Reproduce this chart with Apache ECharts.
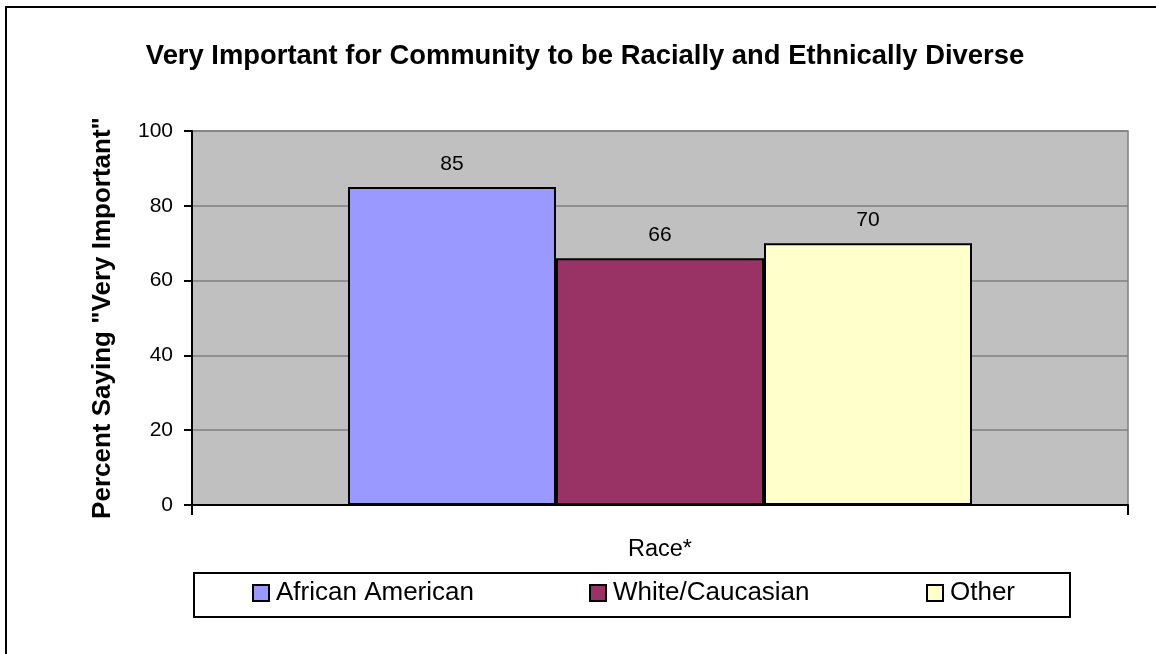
<!DOCTYPE html>
<html>
<head>
<meta charset="utf-8">
<script src="https://cdn.jsdelivr.net/npm/echarts@6/dist/echarts.min.js"></script>
<style>
html,body{margin:0;padding:0;background:#fff;}
#chart{width:1156px;height:654px;}
</style>
</head>
<body>
<div id="chart"></div>
<script>
const titleText = 'Very Important for Community to be Racially and Ethnically Diverse';
const yAxisTitle = 'Percent Saying "Very Important"';
const xAxisTitle = 'Race*';
const categories = [''];
const seriesNames = ['African American', 'White/Caucasian', 'Other'];
const seriesValues = [[85], [66], [70]];
const seriesColors = ['#9999ff', '#993366', '#ffffcc'];
const yTicks = { min: 0, max: 100, interval: 20 };
const legendLefts = [252, 589, 926];

const FONT = 'Arial, "Liberation Sans", sans-serif';
const chart = echarts.init(document.getElementById('chart'), null, { renderer: 'canvas' });

const series = seriesNames.map((name, i) => ({
  name: name,
  type: 'bar',
  data: seriesValues[i],
  barGap: '0%',
  barCategoryGap: '33.333%',
  itemStyle: { color: seriesColors[i], borderColor: '#000', borderWidth: 2 },
  label: {
    show: true, position: 'top', distance: 12,
    color: '#000', fontFamily: FONT, fontSize: 21
  }
}));

const legends = seriesNames.map((name, i) => ({
  data: [{ name: name, icon: 'rect', itemStyle: { borderColor: '#000', borderWidth: 2 } }],
  left: legendLefts[i], top: 580, padding: 0,
  itemWidth: 16, itemHeight: 16,
  textStyle: { color: '#000', fontFamily: FONT, fontSize: 26, padding: [0, 0, 0, 2] },
  selectedMode: false
}));

chart.setOption({
  animation: false,
  backgroundColor: '#fff',
  graphic: [
    { type: 'rect', z: -10, shape: { x: 6, y: 7, width: 2000, height: 2000 },
      style: { fill: 'none', stroke: '#000', lineWidth: 2 } },
    { type: 'rect', z: -10, shape: { x: 194, y: 573, width: 876, height: 44 },
      style: { fill: '#fff', stroke: '#000', lineWidth: 2 } },
    { type: 'text', x: 585, y: 56,
      style: { text: titleText, textAlign: 'center', textVerticalAlign: 'middle',
        font: 'bold 27.4px ' + FONT, fill: '#000' } }
  ],
  legend: legends,
  grid: {
    left: 192, top: 131, right: 28, bottom: 149,
    show: true, backgroundColor: '#c0c0c0', borderColor: '#808080', borderWidth: 1.5
  },
  xAxis: {
    type: 'category', data: categories,
    name: xAxisTitle, nameLocation: 'middle', nameGap: 33,
    nameTextStyle: { color: '#000', fontFamily: FONT, fontSize: 23.5 },
    axisLine: { lineStyle: { color: '#000', width: 2 } },
    axisTick: { show: true, length: 10, interval: 0, lineStyle: { color: '#000', width: 2 } },
    axisLabel: { show: false },
    splitLine: { show: false }
  },
  yAxis: {
    type: 'value', min: yTicks.min, max: yTicks.max, interval: yTicks.interval,
    name: yAxisTitle, nameLocation: 'middle', nameGap: 76,
    nameTextStyle: { color: '#000', fontFamily: FONT, fontSize: 26, fontWeight: 'bold' },
    axisLine: { show: true, lineStyle: { color: '#000', width: 2 } },
    axisTick: { show: true, length: 8, lineStyle: { color: '#000', width: 2 } },
    axisLabel: { color: '#000', fontFamily: FONT, fontSize: 21, margin: 19 },
    splitLine: { show: true, lineStyle: { color: '#808080', width: 1.5 } }
  },
  series: series
});
</script>
</body>
</html>
